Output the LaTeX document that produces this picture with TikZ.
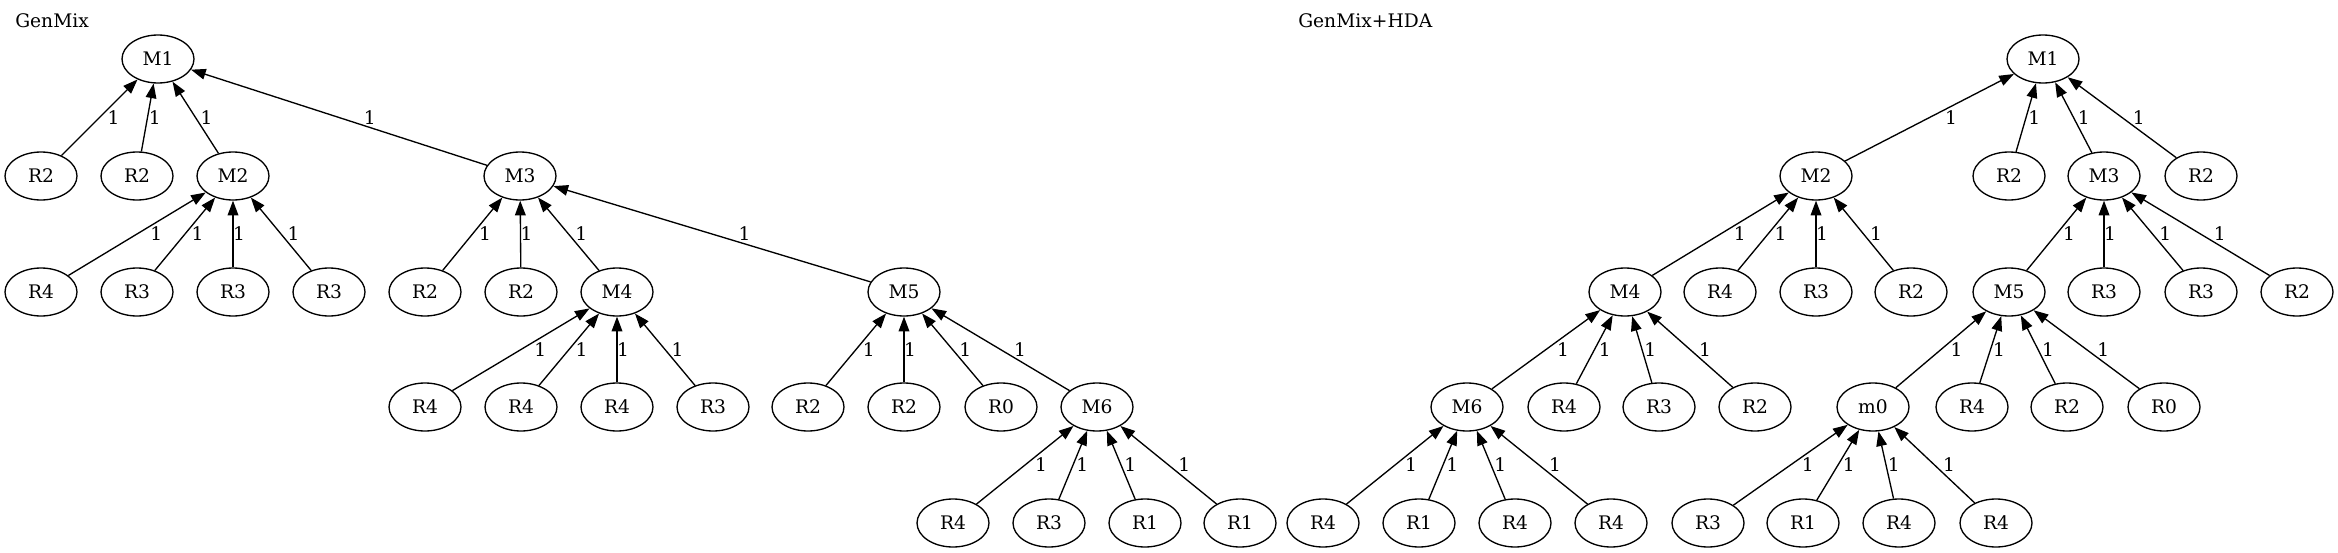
\documentclass[tikz,border=0pt]{standalone}
\usepackage{fontspec}
\setmainfont{DejaVu Serif}
\usetikzlibrary{shapes.geometric,arrows.meta,calc}
\tikzset{
vert/.style={draw,ellipse,line width=1pt,minimum width=54pt,minimum height=36pt,inner sep=0pt,font=\fontsize{14}{16}\selectfont},
tie/.style={line width=1pt,-{Triangle[length=11pt,width=8pt]}},
wlbl/.style={inner sep=0pt,font=\fontsize{14}{16}\selectfont}
}
% child -> parent, weight label beside the middle
\newcommand\link[2]{\draw[tie] let \p1=(#1.center), \p2=(#2.center),
\n1={4.5+6*abs(\x2-\x1)/(\y2-\y1)} in (#1)--(#2) node[wlbl,midway,xshift=\n1]{1};}
\begin{document}
\begin{tikzpicture}[x=0.75pt,y=-0.75pt]
\useasboundingbox (0,0) rectangle (2338,553);
\node[wlbl,anchor=base west] (t1) at (15,27) {GenMix};
\node[wlbl,anchor=base west] (t2) at (1298,27) {GenMix+HDA};
% GenMix
\node[vert] (aM1) at (158,59) {M1};
\node[vert] (aR2a) at (41,176) {R2}; \node[vert] (aR2b) at (137,176) {R2};
\node[vert] (aM2) at (233,176) {M2}; \node[vert] (aM3) at (520,176) {M3};
\node[vert] (aR4a) at (41,292) {R4}; \node[vert] (aR3a) at (137,292) {R3};
\node[vert] (aR3b) at (233,292) {R3}; \node[vert] (aR3c) at (329,292) {R3};
\node[vert] (aR2c) at (425,292) {R2}; \node[vert] (aR2d) at (521,292) {R2};
\node[vert] (aM4) at (617,292) {M4}; \node[vert] (aM5) at (904,292) {M5};
\node[vert] (aR4b) at (425,407) {R4}; \node[vert] (aR4c) at (521,407) {R4};
\node[vert] (aR4d) at (617,407) {R4}; \node[vert] (aR3d) at (713,407) {R3};
\node[vert] (aR2e) at (808,407) {R2}; \node[vert] (aR2f) at (904,407) {R2};
\node[vert] (aR0) at (1001,407) {R0}; \node[vert] (aM6) at (1097,407) {M6};
\node[vert] (aR4e) at (953,523) {R4}; \node[vert] (aR3e) at (1049,523) {R3};
\node[vert] (aR1a) at (1145,523) {R1}; \node[vert] (aR1b) at (1240,523) {R1};
% GenMix+HDA
\node[vert] (bM1) at (2043,59) {M1};
\node[vert] (bM2) at (1816,176) {M2}; \node[vert] (bR2a) at (2009,176) {R2};
\node[vert] (bM3) at (2104,176) {M3}; \node[vert] (bR2b) at (2201,176) {R2};
\node[vert] (bM4) at (1625,292) {M4}; \node[vert] (bR4a) at (1720,292) {R4};
\node[vert] (bR3a) at (1816,292) {R3}; \node[vert] (bR2c) at (1911,292) {R2};
\node[vert] (bM5) at (2009,292) {M5}; \node[vert] (bR3b) at (2104,292) {R3};
\node[vert] (bR3c) at (2201,292) {R3}; \node[vert] (bR2d) at (2297,292) {R2};
\node[vert] (bM6) at (1467,407) {M6}; \node[vert] (bR4b) at (1564,407) {R4};
\node[vert] (bR3d) at (1659,407) {R3}; \node[vert] (bR2e) at (1755,407) {R2};
\node[vert] (bm0) at (1873,407) {m0}; \node[vert] (bR4c) at (1972,407) {R4};
\node[vert] (bR2f) at (2067,407) {R2}; \node[vert] (bR0) at (2164,407) {R0};
\node[vert] (bR4d) at (1323,523) {R4}; \node[vert] (bR1a) at (1419,523) {R1};
\node[vert] (bR4e) at (1515,523) {R4}; \node[vert] (bR4f) at (1611,523) {R4};
\node[vert] (bR3e) at (1708,523) {R3}; \node[vert] (bR1b) at (1803,523) {R1};
\node[vert] (bR4g) at (1899,523) {R4}; \node[vert] (bR4h) at (1996,523) {R4};
\foreach \kid/\up in {aR2a/aM1,aR2b/aM1,aM2/aM1,aM3/aM1,
aR4a/aM2,aR3a/aM2,aR3b/aM2,aR3c/aM2,aR2c/aM3,aR2d/aM3,aM4/aM3,aM5/aM3,
aR4b/aM4,aR4c/aM4,aR4d/aM4,aR3d/aM4,aR2e/aM5,aR2f/aM5,aR0/aM5,aM6/aM5,
aR4e/aM6,aR3e/aM6,aR1a/aM6,aR1b/aM6,
bM2/bM1,bR2a/bM1,bM3/bM1,bR2b/bM1,
bM4/bM2,bR4a/bM2,bR3a/bM2,bR2c/bM2,bM5/bM3,bR3b/bM3,bR3c/bM3,bR2d/bM3,
bM6/bM4,bR4b/bM4,bR3d/bM4,bR2e/bM4,bm0/bM5,bR4c/bM5,bR2f/bM5,bR0/bM5,
bR4d/bM6,bR1a/bM6,bR4e/bM6,bR4f/bM6,bR3e/bm0,bR1b/bm0,bR4g/bm0,bR4h/bm0}
\link{\kid}{\up};
\end{tikzpicture}
\end{document}
